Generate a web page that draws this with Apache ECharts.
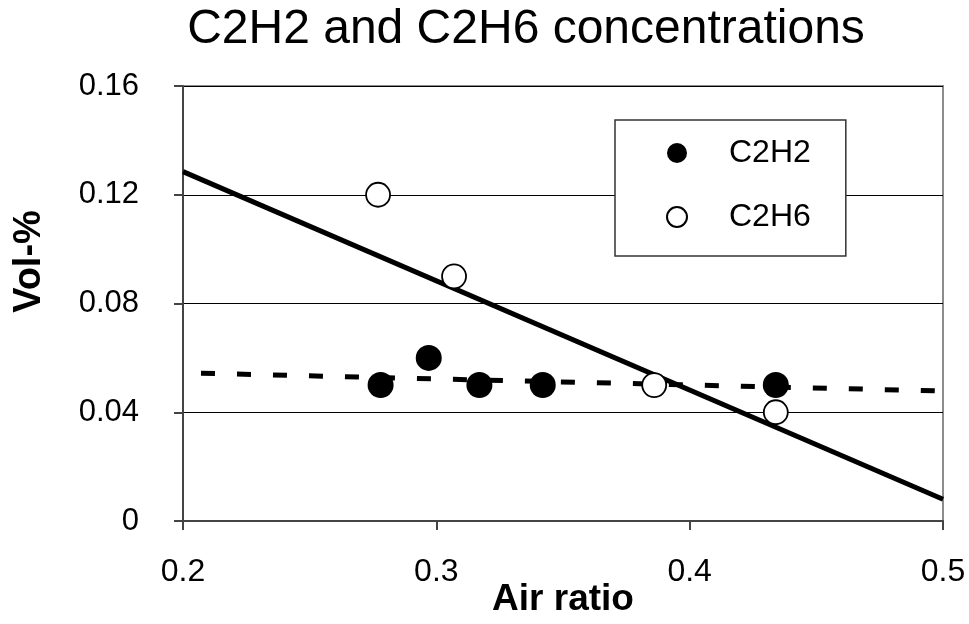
<!DOCTYPE html>
<html>
<head>
<meta charset="utf-8">
<script src="https://cdn.jsdelivr.net/npm/echarts@6/dist/echarts.min.js"></script>
<style>
html,body{margin:0;padding:0;background:#fff;}
#chart{width:969px;height:624px;}
</style>
</head>
<body>
<div id="chart"></div>
<script>
// Data
var titleText = 'C2H2 and C2H6 concentrations';
var xAxisName = 'Air ratio';
var yAxisName = 'Vol-%';
var seriesNames = ['C2H2', 'C2H6'];
var c2h2Points = [[0.278, 0.050], [0.297, 0.060], [0.317, 0.050], [0.342, 0.050], [0.434, 0.050]];
var c2h6Points = [[0.277, 0.120], [0.307, 0.090], [0.386, 0.050], [0.434, 0.040]];
var c2h6Trend = [[0.2, 0.1285], [0.5, 0.008]];
var c2h2Trend = [[0.2, 0.0545], [0.5, 0.0478]];
var xTicks = {min: 0.2, max: 0.5, interval: 0.1};
var yTicks = {min: 0, max: 0.16, interval: 0.04};

var FONT = '"Liberation Sans", Arial, sans-serif';
var chart = echarts.init(document.getElementById('chart'));
chart.setOption({
  animation: false,
  backgroundColor: '#fff',
  title: {
    text: titleText,
    left: 521, top: 1, textAlign: 'center',
    textStyle: {fontFamily: FONT, fontSize: 48, fontWeight: 'normal', color: '#000'}
  },
  grid: {
    left: 183, right: 26, top: 86, bottom: 103,
    outerBoundsMode: 'none', containLabel: false,
    show: true, borderColor: '#8c8c8c', borderWidth: 2, backgroundColor: 'transparent'
  },
  legend: {
    data: seriesNames,
    orient: 'vertical',
    left: 615, top: 120,
    padding: [17, 35, 23, 51],
    itemGap: 32,
    itemWidth: 20, itemHeight: 20,
    backgroundColor: '#fff',
    borderColor: '#333', borderWidth: 1.5,
    textStyle: {fontFamily: FONT, fontSize: 32, color: '#000', lineHeight: 32, padding: [0, 0, 0, 37]}
  },
  xAxis: {
    type: 'value', min: xTicks.min, max: xTicks.max, interval: xTicks.interval,
    name: xAxisName, nameLocation: 'middle', nameGap: 60, nameMoveOverlap: false,
    nameTextStyle: {fontFamily: FONT, fontSize: 37, fontWeight: 'bold', color: '#000'},
    axisLine: {show: true, onZero: false, lineStyle: {color: '#444', width: 2}},
    axisTick: {show: true, length: 9, lineStyle: {color: '#444', width: 2}},
    axisLabel: {fontFamily: FONT, fontSize: 32, color: '#000', margin: 35},
    splitLine: {show: false}
  },
  yAxis: {
    type: 'value', min: yTicks.min, max: yTicks.max, interval: yTicks.interval,
    name: yAxisName, nameLocation: 'middle', nameGap: 134, nameRotate: 90, nameMoveOverlap: false,
    nameTextStyle: {fontFamily: FONT, fontSize: 38, fontWeight: 'bold', color: '#000', padding: [0, 0, 0, 84]},
    axisLine: {show: true, onZero: false, lineStyle: {color: '#444', width: 2}},
    axisTick: {show: true, length: 9, lineStyle: {color: '#444', width: 2}},
    axisLabel: {fontFamily: FONT, fontSize: 31, color: '#000', margin: 44},
    splitLine: {show: true, lineStyle: {color: '#000', width: 1.2}}
  },
  series: [
    {
      name: 'trendC2H6', type: 'line', data: c2h6Trend, symbol: 'none', z: 3,
      lineStyle: {color: '#000', width: 5}
    },
    {
      name: 'trendC2H2', type: 'line', data: c2h2Trend, symbol: 'none', z: 3,
      lineStyle: {color: '#000', width: 5, type: [14, 22], dashOffset: 18}
    },
    {
      name: seriesNames[0], type: 'scatter', data: c2h2Points, symbol: 'circle', symbolSize: 26, z: 5,
      itemStyle: {color: '#000', opacity: 1}
    },
    {
      name: seriesNames[1], type: 'scatter', data: c2h6Points, symbol: 'circle', symbolSize: 24, z: 5,
      itemStyle: {color: '#fff', borderColor: '#000', borderWidth: 1.8, opacity: 1}
    }
  ]
});
</script>
</body>
</html>
